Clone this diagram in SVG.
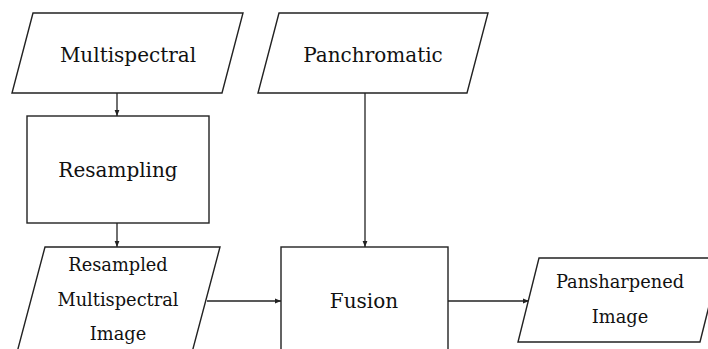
<svg xmlns="http://www.w3.org/2000/svg" width="708" height="349" viewBox="0 0 708 349">
<defs>
<style>
.shape{fill:#fff;stroke:#222;stroke-width:1.4}
.conn{fill:none;stroke:#222;stroke-width:1.3}
.lbl{font-family:"DejaVu Serif","Liberation Serif",serif;fill:#111;text-anchor:middle}
.big{font-size:20px}
.sm{font-size:17.8px}
</style>
<marker id="arr" viewBox="0 0 10 10" refX="10" refY="5" markerWidth="6" markerHeight="6" markerUnits="userSpaceOnUse" orient="auto">
<path d="M0,1 L10,5 L0,9 z" fill="#222"/>
</marker>
</defs>
<rect width="708" height="349" fill="#fff"/>
<g id="connectors">
<line class="conn" x1="117" y1="93" x2="117" y2="116" marker-end="url(#arr)"/>
<line class="conn" x1="117" y1="223" x2="117" y2="247" marker-end="url(#arr)"/>
<line class="conn" x1="365" y1="93" x2="365" y2="247" marker-end="url(#arr)"/>
<line class="conn" x1="207" y1="301" x2="281" y2="301" marker-end="url(#arr)"/>
<line class="conn" x1="448" y1="301" x2="529" y2="301" marker-end="url(#arr)"/>
</g>
<g id="multispectral">
<polygon class="shape" points="33,13 243,13 222,93 12,93"/>
<text class="lbl big" x="128" y="62">Multispectral</text>
</g>
<g id="panchromatic">
<polygon class="shape" points="279,13 488,13 467,93 258,93"/>
<text class="lbl big" x="373" y="62">Panchromatic</text>
</g>
<g id="resampling">
<rect class="shape" x="27" y="116" width="182" height="107"/>
<text class="lbl big" x="118" y="177">Resampling</text>
</g>
<g id="resampled">
<polygon class="shape" points="45,247 220,247 190,360 15,360"/>
<text class="lbl sm" x="118" y="271">Resampled</text>
<text class="lbl sm" x="118" y="306">Multispectral</text>
<text class="lbl sm" x="118" y="340">Image</text>
</g>
<g id="fusion">
<rect class="shape" x="281" y="247" width="167" height="120"/>
<text class="lbl big" x="364" y="308">Fusion</text>
</g>
<g id="pansharpened">
<polygon class="shape" points="539,258 721,258 700,342 518,342"/>
<text class="lbl sm" x="620" y="288">Pansharpened</text>
<text class="lbl sm" x="620" y="323">Image</text>
</g>
</svg>
